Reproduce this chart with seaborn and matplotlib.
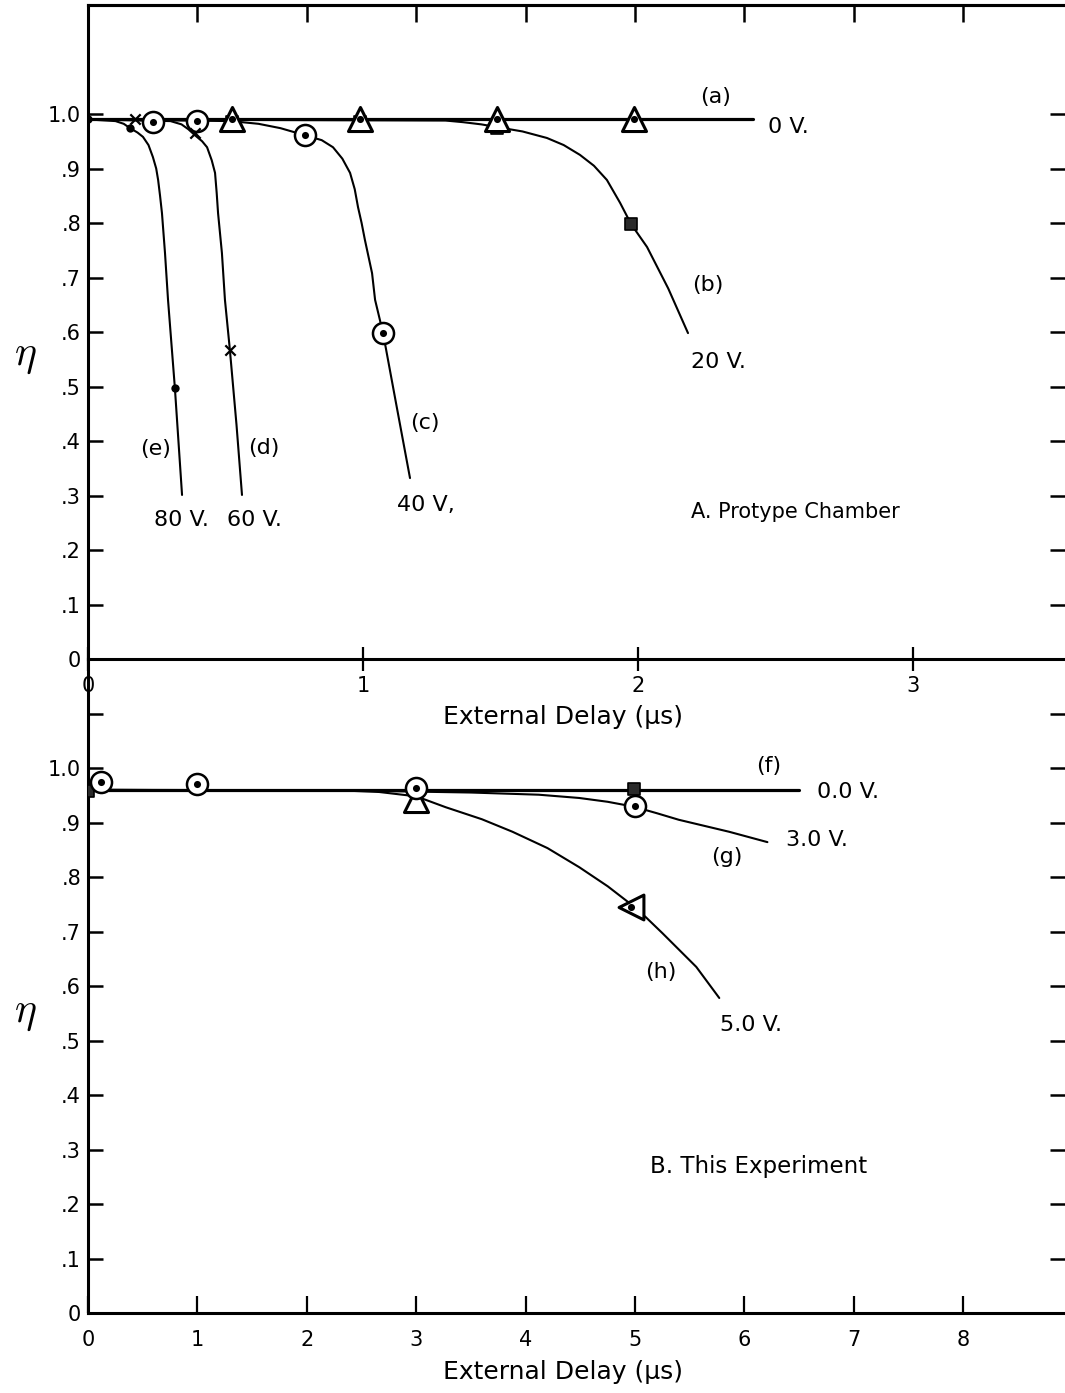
import numpy as np
import pandas as pd
import seaborn as sns
import matplotlib.pyplot as plt

sns.set_theme(style="ticks")
plt.rcParams["font.family"] = ["DejaVu Sans"]
plt.rcParams["mathtext.fontset"] = "cm"
plt.rcParams["text.color"] = "black"
plt.rcParams["axes.labelcolor"] = "black"
plt.rcParams["axes.edgecolor"] = "black"
plt.rcParams["xtick.color"] = "black"
plt.rcParams["ytick.color"] = "black"

# ---------------- Panel A: prototype chamber ----------------
# (a) 0 V
a_x = [0.0, 2.42]
a_eta = [0.99, 0.99]
a_tri_x = [0.524, 0.989, 1.487, 1.985]
a_tri_eta = [0.99, 0.99, 0.99, 0.99]

# (b) 20 V
b_x = [0.0, 1.30, 1.364, 1.43, 1.487, 1.58, 1.669, 1.73, 1.789, 1.84, 1.887,
       1.935, 1.975, 2.033, 2.11, 2.182]
b_eta = [0.99, 0.988, 0.985, 0.981, 0.976, 0.968, 0.956, 0.943, 0.925, 0.905,
         0.879, 0.837, 0.798, 0.756, 0.68, 0.598]
b_sq_x = [0.524, 0.989, 1.487, 1.975]
b_sq_eta = [0.985, 0.985, 0.974, 0.798]

# (c) 40 V
c_x = [0.0, 0.52, 0.62, 0.70, 0.789, 0.85, 0.891, 0.925, 0.953, 0.970, 0.982,
       0.995, 1.007, 1.033, 1.044, 1.073, 1.12, 1.171]
c_eta = [0.99, 0.987, 0.982, 0.974, 0.961, 0.952, 0.939, 0.918, 0.892, 0.862,
         0.829, 0.80, 0.769, 0.708, 0.659, 0.598, 0.47, 0.332]
c_pt_x = [0.236, 0.396, 0.789, 1.073]
c_pt_eta = [0.985, 0.987, 0.961, 0.598]

# (d) 60 V
d_x = [0.0, 0.30, 0.34, 0.365, 0.389, 0.415, 0.433, 0.450, 0.462, 0.468,
       0.473, 0.487, 0.498, 0.516, 0.54, 0.56]
d_eta = [0.99, 0.987, 0.981, 0.972, 0.961, 0.950, 0.939, 0.915, 0.892, 0.855,
         0.818, 0.745, 0.659, 0.567, 0.43, 0.301]
d_pt_x = [0.171, 0.389, 0.516]
d_pt_eta = [0.99, 0.965, 0.567]

# (e) 80 V
e_x = [0.0, 0.10, 0.13, 0.153, 0.18, 0.20, 0.22, 0.236, 0.248, 0.255, 0.262,
       0.269, 0.28, 0.291, 0.316, 0.342]
e_eta = [0.99, 0.987, 0.982, 0.974, 0.966, 0.958, 0.943, 0.921, 0.90, 0.879,
         0.85, 0.818, 0.745, 0.659, 0.497, 0.301]
e_pt_x = [0.0, 0.153, 0.316]
e_pt_eta = [0.99, 0.974, 0.497]

# ---------------- Panel B: this experiment ----------------
# (f) 0.0 V
f_x = [0.0, 6.5]
f_eta = [0.96, 0.96]
f_sq_x = [0.0, 3.0, 4.99]
f_sq_eta = [0.958, 0.962, 0.961]

# (g) 3.0 V
g_x = [0.0, 2.6, 3.5, 4.12, 4.49, 4.75, 4.99, 5.20, 5.40, 5.63, 5.86, 6.21]
g_eta = [0.96, 0.958, 0.955, 0.951, 0.945, 0.938, 0.929, 0.917, 0.905, 0.894,
         0.883, 0.864]
g_pt_x = [0.12, 1.0, 3.0, 5.0]
g_pt_eta = [0.974, 0.971, 0.963, 0.930]

# (h) 5.0 V
h_x = [0.0, 2.3, 2.66, 3.0, 3.27, 3.6, 3.88, 4.2, 4.49, 4.75, 4.95, 5.1, 5.25,
       5.4, 5.56, 5.77]
h_eta = [0.96, 0.959, 0.956, 0.948, 0.928, 0.906, 0.883, 0.853, 0.818, 0.783,
         0.752, 0.726, 0.697, 0.667, 0.635, 0.578]
h_tri_x = [3.0]
h_tri_eta = [0.941]
h_ltri_x = [4.96]
h_ltri_eta = [0.745]

eta_ticks = [0.0, 0.1, 0.2, 0.3, 0.4, 0.5, 0.6, 0.7, 0.8, 0.9, 1.0]
eta_labels = ["0", ".1", ".2", ".3", ".4", ".5", ".6", ".7", ".8", ".9", "1.0"]
top_xticks = [0, 1, 2, 3]
bot_xticks = [0, 1, 2, 3, 4, 5, 6, 7, 8]

INK = "black"
TXT = 16


def curve(ax, x, y, lw=1.5):
    sns.lineplot(x=x, y=y, ax=ax, color=INK, lw=lw, sort=False,
                 estimator=None, legend=False)


def dots(ax, x, y, s=28):
    sns.scatterplot(x=x, y=y, ax=ax, marker="o", s=s, color=INK,
                    edgecolor=INK, linewidth=0, legend=False, zorder=5)


def open_marks(ax, x, y, marker, s, lw=1.8, dot=True):
    sns.scatterplot(x=x, y=y, ax=ax, marker=marker, s=s,
                    facecolor="white", edgecolor=INK, linewidth=lw,
                    legend=False, zorder=4)
    if dot:
        dots(ax, x, y, s=26)


def squares(ax, x, y, s=80):
    sns.scatterplot(x=x, y=y, ax=ax, marker="s", s=s, color="#2a2a2a",
                    edgecolor=INK, linewidth=1.2, legend=False, zorder=4)


def crosses(ax, x, y, s=55):
    sns.scatterplot(x=x, y=y, ax=ax, marker="x", s=s, color=INK,
                    linewidth=1.6, legend=False, zorder=5)


fig = plt.figure(figsize=(10.65, 13.93), dpi=100)
ax2 = fig.add_axes([0.08263, 0.05743, 0.91737, 0.46949])
ax1 = fig.add_axes([0.08263, 0.52692, 0.91737, 0.46949])
ax2.patch.set_visible(False)
ax1.patch.set_visible(False)
ax1.set_zorder(3)

# ---- Panel A ----
curve(ax1, a_x, a_eta, lw=2.3)
curve(ax1, b_x, b_eta)
curve(ax1, c_x, c_eta)
curve(ax1, d_x, d_eta)
curve(ax1, e_x, e_eta)
squares(ax1, b_sq_x, b_sq_eta)
open_marks(ax1, a_tri_x, a_tri_eta, "^", 300, lw=2.2)
open_marks(ax1, c_pt_x, c_pt_eta, "o", 230)
crosses(ax1, d_pt_x, d_pt_eta)
dots(ax1, e_pt_x, e_pt_eta, s=36)

ax1.set_xlim(0, 3.553)
ax1.set_ylim(0, 1.2)

ax1.text(2.284, 1.031, "(a)", fontsize=TXT, ha="center", va="center")
ax1.text(2.473, 0.976, "0 V.", fontsize=TXT, ha="left", va="center")
ax1.text(2.255, 0.686, "(b)", fontsize=TXT, ha="center", va="center")
ax1.text(2.291, 0.545, "20 V.", fontsize=TXT, ha="center", va="center")
ax1.text(1.225, 0.433, "(c)", fontsize=TXT, ha="center", va="center")
ax1.text(1.228, 0.283, "40 V,", fontsize=TXT, ha="center", va="center")
ax1.text(0.640, 0.387, "(d)", fontsize=TXT, ha="center", va="center")
ax1.text(0.244, 0.385, "(e)", fontsize=TXT, ha="center", va="center")
ax1.text(0.338, 0.255, "80 V.", fontsize=TXT, ha="center", va="center")
ax1.text(0.607, 0.255, "60 V.", fontsize=TXT, ha="center", va="center")
ax1.text(2.571, 0.270, "A. Protype Chamber", fontsize=15, ha="center", va="center")

# ---- Panel B ----
curve(ax2, f_x, f_eta, lw=2.3)
curve(ax2, g_x, g_eta)
curve(ax2, h_x, h_eta)
squares(ax2, f_sq_x, f_sq_eta)
open_marks(ax2, h_tri_x, h_tri_eta, "^", 300, lw=2.2, dot=False)
open_marks(ax2, g_pt_x, g_pt_eta, "o", 230)
open_marks(ax2, h_ltri_x, h_ltri_eta, "<", 320, lw=2.2)

ax2.set_xlim(0, 8.93)
ax2.set_ylim(0, 1.2)

ax2.text(6.22, 1.004, "(f)", fontsize=TXT, ha="center", va="center")
ax2.text(6.66, 0.956, "0.0 V.", fontsize=TXT, ha="left", va="center")
ax2.text(6.38, 0.868, "3.0 V.", fontsize=TXT, ha="left", va="center")
ax2.text(5.84, 0.837, "(g)", fontsize=TXT, ha="center", va="center")
ax2.text(5.24, 0.626, "(h)", fontsize=TXT, ha="center", va="center")
ax2.text(6.06, 0.528, "5.0 V.", fontsize=TXT, ha="center", va="center")
ax2.text(6.13, 0.268, "B. This Experiment", fontsize=16.5, ha="center", va="center")

# ---- frame and ticks ----
for ax in (ax1, ax2):
    ax.spines["right"].set_visible(False)
    for side in ("left", "bottom", "top"):
        ax.spines[side].set_linewidth(2.2)
        ax.spines[side].set_color(INK)
    ax.set_xlabel("")
    ax.set_ylabel("")
    ax.tick_params(axis="y", which="major", direction="in", length=11,
                   width=1.8, color=INK, left=True, right=True,
                   labelleft=True, labelright=False, labelsize=15, pad=5)
ax2.spines["top"].set_visible(False)

ax1.set_yticks(eta_ticks)
ax1.set_yticklabels(eta_labels)
ax2.set_yticks(eta_ticks + [1.1])
ax2.set_yticklabels(eta_labels + [""])

ax1.set_xticks(top_xticks)
ax1.set_xticklabels([str(t) for t in top_xticks])
ax1.tick_params(axis="x", direction="inout", length=17, width=1.6,
                color=INK, labelsize=15, pad=4, top=False)

ax2.set_xticks(bot_xticks)
ax2.set_xticklabels([str(t) for t in bot_xticks])
ax2.tick_params(axis="x", direction="in", length=12, width=1.6,
                color=INK, labelsize=15, pad=12, top=False)

# tick marks along the upper border follow the lower panel's delay scale
ax1t = ax1.twiny()
ax1t.set_xlim(0, 8.93)
ax1t.set_xticks([1, 2, 3, 4, 5, 6, 7, 8])
ax1t.set_xticklabels([])
ax1t.tick_params(axis="x", direction="in", length=12, width=1.8, color=INK)
for side in ("left", "right", "bottom"):
    ax1t.spines[side].set_visible(False)
ax1t.spines["top"].set_linewidth(2.2)
ax1t.spines["top"].set_color(INK)
ax1t.patch.set_visible(False)

# axis titles
fig.text(563 / 1065, 1 - 717 / 1393, "External Delay (μs)", fontsize=18,
         ha="center", va="center")
fig.text(563 / 1065, 1 - 1372 / 1393, "External Delay (μs)", fontsize=18,
         ha="center", va="center")
fig.text(25 / 1065, 1 - 355 / 1393, r"$\eta$", fontsize=30,
         ha="center", va="center")
fig.text(25 / 1065, 1 - 1012 / 1393, r"$\eta$", fontsize=30,
         ha="center", va="center")

fig.savefig("out.png", dpi=100, facecolor="white")
